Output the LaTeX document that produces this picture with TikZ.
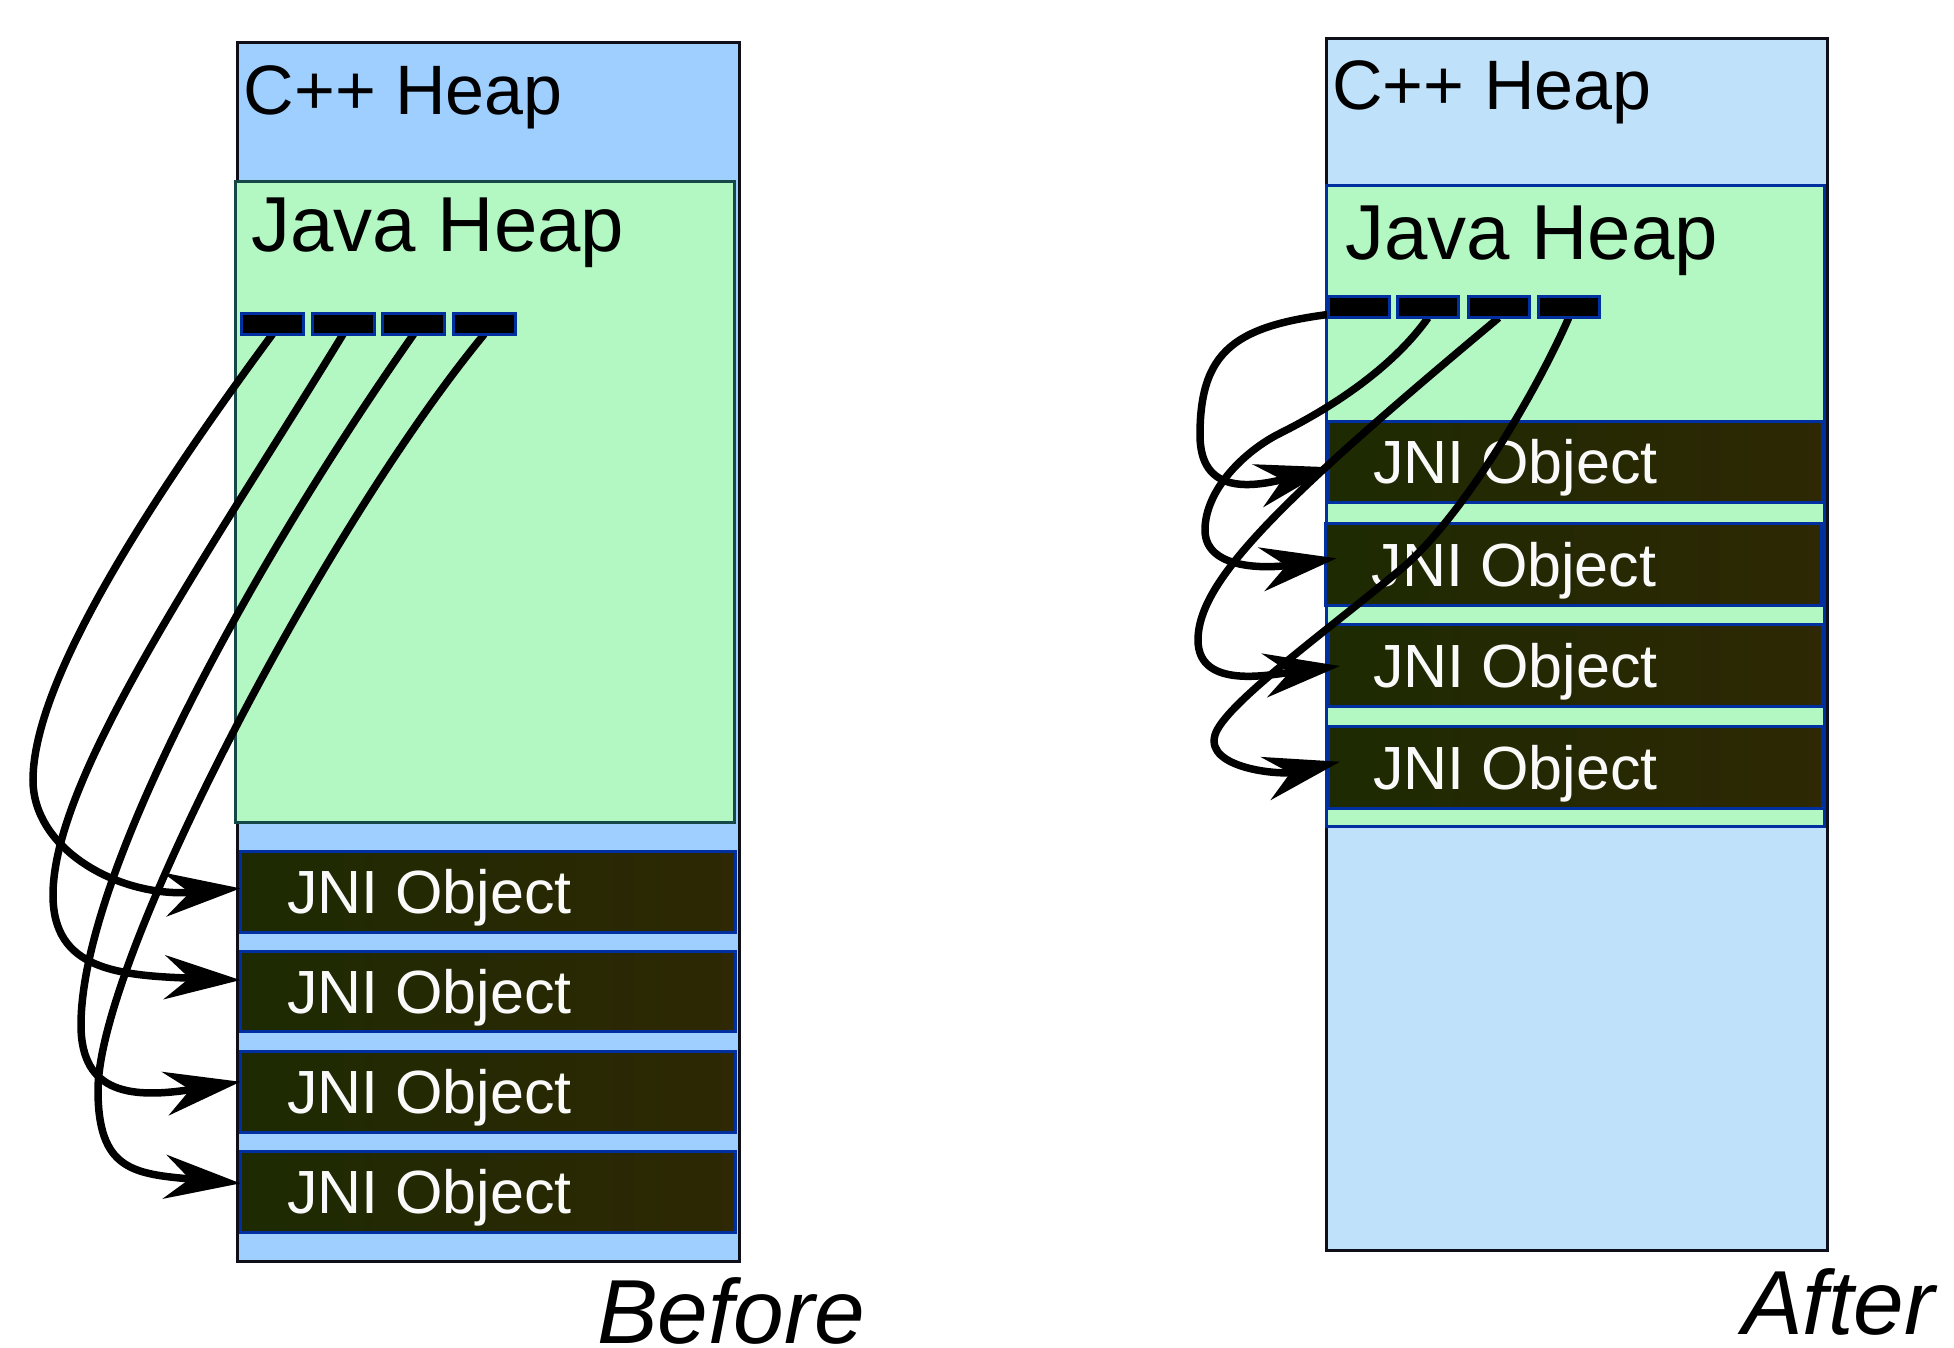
\documentclass[tikz,border=0pt]{standalone}
\usepackage{fontspec}
\setmainfont{Liberation Sans}
\usetikzlibrary{arrows.meta}
\definecolor{cppL}{RGB}{159,207,255}
\definecolor{cppR}{RGB}{191,225,250}
\definecolor{javag}{RGB}{179,247,195}
\definecolor{jnil}{RGB}{29,42,2}
\definecolor{jnir}{RGB}{46,40,4}
\definecolor{edgeblue}{RGB}{0,48,160}
\definecolor{tealedge}{RGB}{22,72,72}
\definecolor{outerc}{RGB}{15,15,25}
\definecolor{jnitxt}{RGB}{250,250,250}
\begin{document}
\begin{tikzpicture}[x=1pt,y=-1pt,
  box/.style={rectangle,inner sep=0pt,outer sep=0pt,anchor=north west,line width=3pt},
  jnibox/.style={box,draw=edgeblue,left color=jnil,right color=jnir},
  slotbox/.style={box,draw=edgeblue,fill=black,minimum height=21pt},
  heaplabel/.style={anchor=base west,inner sep=0pt,font=\fontsize{70pt}{70pt}\selectfont},
  javalabel/.style={anchor=base west,inner sep=0pt,font=\fontsize{78pt}{78pt}\selectfont},
  jnilabel/.style={anchor=base west,inner sep=0pt,text=jnitxt,font=\fontsize{61pt}{61pt}\selectfont},
  caption/.style={anchor=base west,inner sep=0pt,font=\fontsize{91pt}{91pt}\selectfont\itshape},
  conn/.style={line width=7.5pt,draw=black,-{Stealth[length=76pt,width=44pt,inset=25pt]}}
]
\useasboundingbox (0,0) rectangle (1954,1348);

% ---------- Before ----------
\node[box,draw=outerc,fill=cppL,minimum width=502pt,minimum height=1218.5pt] (lout) at (237,43) {};
\node[box,draw=tealedge,fill=javag,minimum width=499pt,minimum height=641pt] (ljava) at (235.5,181.5) {};
\node[jnibox,minimum width=495pt,minimum height=80.5pt] (lj1) at (240.5,851.5) {};
\node[jnibox,minimum width=495pt,minimum height=80.5pt] (lj2) at (240.5,951.3) {};
\node[jnibox,minimum width=495pt,minimum height=80.5pt] (lj3) at (240.5,1051.5) {};
\node[jnibox,minimum width=495pt,minimum height=80.5pt] (lj4) at (240.5,1151.5) {};
\node[jnilabel] (lt1) at ([xshift=46.3pt,yshift=-21.8pt]lj1.west) {JNI Object};
\node[jnilabel] (lt2) at ([xshift=46.3pt,yshift=-21.8pt]lj2.west) {JNI Object};
\node[jnilabel] (lt3) at ([xshift=46.3pt,yshift=-21.8pt]lj3.west) {JNI Object};
\node[jnilabel] (lt4) at ([xshift=46.3pt,yshift=-21.8pt]lj4.west) {JNI Object};
\node[heaplabel] (lcpp) at (243.4,115) {C++ Heap};
\node[javalabel] (ljh) at (251.4,251.7) {Java Heap};

\node[slotbox,minimum width=62pt] (ls1) at (241.5,313.2) {};
\node[slotbox,minimum width=62pt] (ls2) at (312.1,313.2) {};
\node[slotbox,minimum width=62pt] (ls3) at (382.7,313.2) {};
\node[slotbox,minimum width=62pt] (ls4) at (453.3,313.2) {};

\draw[conn] (ls1.south) .. controls (151.4,498.2) and (33,680) .. (33,780)
  .. controls (33,850) and (120,898.2) .. ([yshift=3.4pt]lj1.west);
\draw[conn] (ls2.south) .. controls (212.3,548.5) and (53,775) .. (53,895)
  .. controls (53,970) and (118,975.5) .. ([yshift=11.5pt]lj2.west);
\draw[conn] (ls3.south) .. controls (252.2,564) and (81,875) .. (81,1025)
  .. controls (81,1095) and (133.3,1098.7) .. ([yshift=10pt]lj3.west);
\draw[conn] (ls4.south) .. controls (324.5,528) and (98,960) .. (98,1090)
  .. controls (98,1170) and (133,1174) .. ([yshift=8.4pt]lj4.west);

\node[slotbox,minimum width=62pt] at (ls1.north west) {};
\node[slotbox,minimum width=62pt] at (ls2.north west) {};
\node[slotbox,minimum width=62pt] at (ls3.north west) {};
\node[slotbox,minimum width=62pt] at (ls4.north west) {};

\node[caption] (before) at (597,1343) {Before};

% ---------- After ----------
\node[box,draw=outerc,fill=cppR,minimum width=500.3pt,minimum height=1211.4pt] (rout) at (1326.7,38.8) {};
\node[box,draw=edgeblue,fill=javag,minimum width=498pt,minimum height=640.7pt] (rjava) at (1326.5,185.5) {};
\node[jnibox,minimum width=493.7pt,minimum height=81pt] (rj1) at (1328.8,421.5) {};
\node[jnibox,minimum width=495.7pt,minimum height=82pt] (rj2) at (1325.5,523.2) {};
\node[jnibox,minimum width=493.7pt,minimum height=82pt] (rj3) at (1328.8,624.8) {};
\node[jnibox,minimum width=493.7pt,minimum height=82pt] (rj4) at (1328.8,726.5) {};
\node[jnilabel] (rt1) at ([xshift=44pt,yshift=-21.8pt]rj1.west) {JNI Object};
\node[jnilabel] (rt2) at ([xshift=45.9pt,yshift=-21.8pt]rj2.west) {JNI Object};
\node[jnilabel] (rt3) at ([xshift=44pt,yshift=-21.8pt]rj3.west) {JNI Object};
\node[jnilabel] (rt4) at ([xshift=44pt,yshift=-21.8pt]rj4.west) {JNI Object};
\node[heaplabel] (rcpp) at (1332.2,110) {C++ Heap};
\node[javalabel] (rjh) at (1345,260) {Java Heap};

\node[slotbox,minimum width=61pt,minimum height=21.3pt] (rs1) at (1328.2,296.5) {};
\node[slotbox,minimum width=61pt,minimum height=21.3pt] (rs2) at (1397.5,296.5) {};
\node[slotbox,minimum width=61pt,minimum height=21.3pt] (rs3) at (1468.2,296.5) {};
\node[slotbox,minimum width=61pt,minimum height=21.3pt] (rs4) at (1538.2,296.5) {};

\draw[conn] ([yshift=-4pt]rs1.center) .. controls (1240,322) and (1200,345) .. (1200,435)
  .. controls (1200,495) and (1251.7,487.3) .. ([xshift=3pt,yshift=-5.3pt]rj1.west);
\draw[conn] (rs2.south) .. controls (1386.7,375.8) and (1315.8,415.4) .. (1280,433.3)
  .. controls (1244.2,451.2) and (1205,490) .. (1205,530)
  .. controls (1205,570) and (1266.7,568.5) .. ([xshift=11.2pt,yshift=5.9pt]rj2.west);
\draw[conn] (rs3.south) .. controls (1283.1,497.9) and (1198,580) .. (1198,640)
  .. controls (1198,690) and (1270,674.75) .. ([xshift=11.2pt,yshift=-0.2pt]rj3.west);
\draw[conn] (rs4.south) .. controls (1536.2,392.4) and (1461.6,518.8) .. (1400,570)
  .. controls (1323,634) and (1224,705) .. (1215,735)
  .. controls (1205,768.5) and (1280,775.3) .. ([xshift=11.2pt,yshift=5.8pt]rj4.west);

\node[slotbox,minimum width=61pt,minimum height=21.3pt] at (rs1.north west) {};
\node[slotbox,minimum width=61pt,minimum height=21.3pt] at (rs2.north west) {};
\node[slotbox,minimum width=61pt,minimum height=21.3pt] at (rs3.north west) {};
\node[slotbox,minimum width=61pt,minimum height=21.3pt] at (rs4.north west) {};

\node[caption] (after) at (1742,1334) {After};
\end{tikzpicture}
\end{document}
